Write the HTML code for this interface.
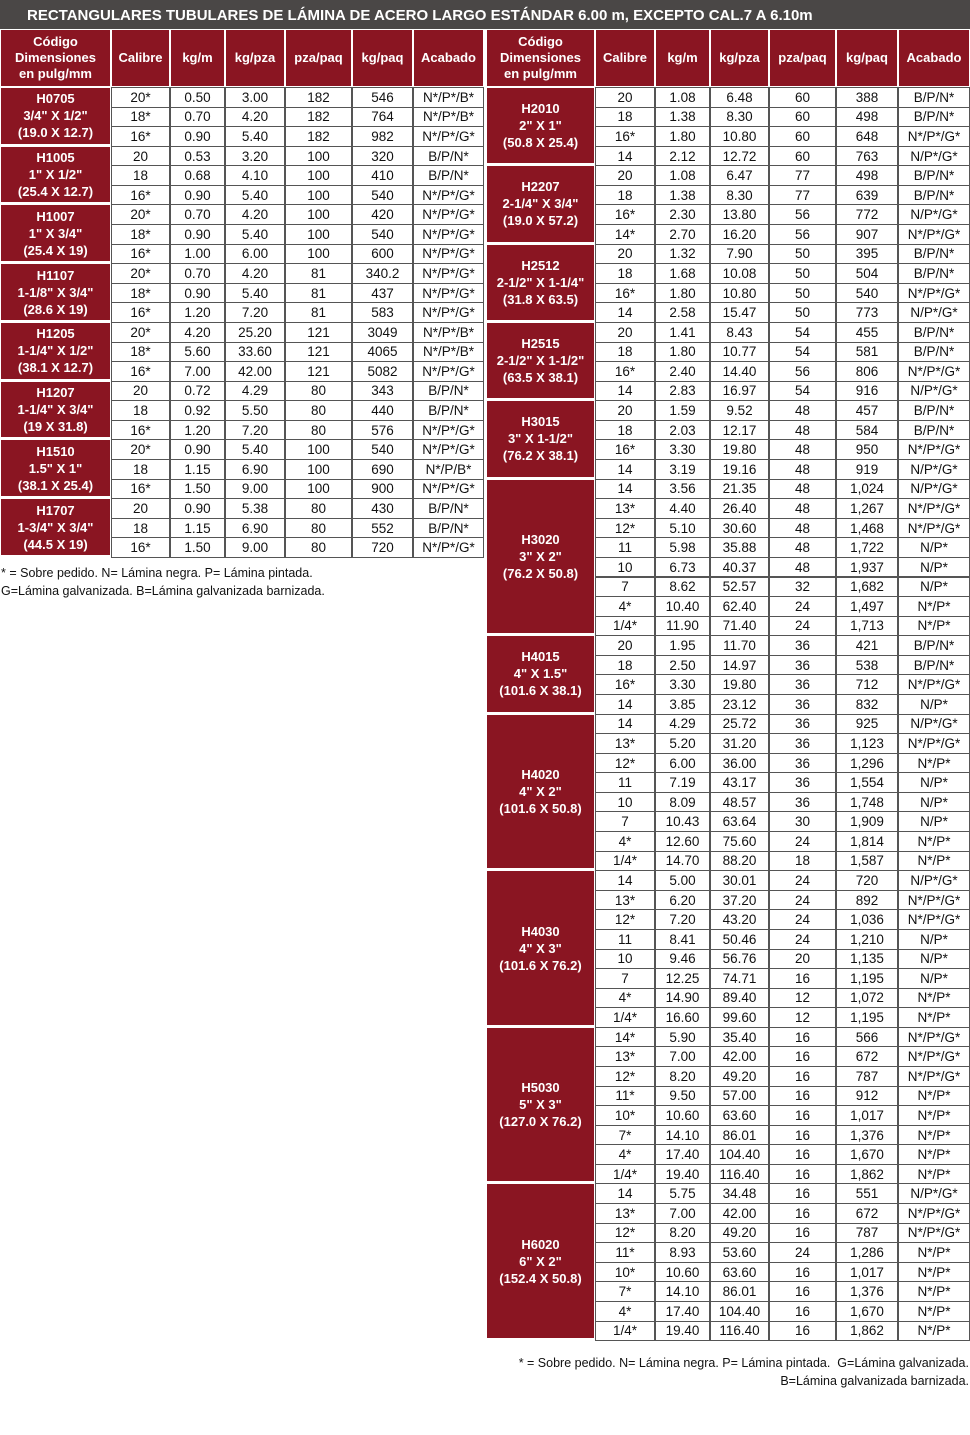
<!DOCTYPE html>
<html><head><meta charset="utf-8">
<style>
body{margin:0;width:970px;height:1435px;background:#fff;position:relative;overflow:hidden;font-family:"Liberation Sans",sans-serif;}
.c{position:absolute;box-sizing:border-box;display:flex;align-items:center;justify-content:center;text-align:center;}
.h{background:#8a1522;color:#fff;font-weight:bold;font-size:13px;line-height:16px;border:1px solid #fff;}
.g{background:#8a1522;color:#fff;font-weight:bold;font-size:13px;line-height:17px;border:1px solid #fff;border-bottom:2px solid #fff;}
.d{background:#fff;color:#111;font-size:13.5px;border:1px solid #555;}
#title{position:absolute;left:0;top:0;width:970px;height:29px;background:#4a4746;color:#fff;font-weight:bold;font-size:15px;line-height:31px;padding-left:27px;box-sizing:border-box;white-space:nowrap;}
.note{position:absolute;font-size:12.5px;line-height:18px;color:#111;}
</style></head><body>
<div id="title">RECTANGULARES TUBULARES DE LÁMINA DE ACERO LARGO ESTÁNDAR 6.00 m, EXCEPTO CAL.7 A 6.10m</div>
<div class="note" style="left:1px;top:564px;">* = Sobre pedido. N= Lámina negra. P= Lámina pintada.<br>G=Lámina galvanizada. B=Lámina galvanizada barnizada.</div>
<div class="note" style="right:1px;top:1354px;text-align:right;">* = Sobre pedido. N= Lámina negra. P= Lámina pintada.&nbsp; G=Lámina galvanizada.<br>B=Lámina galvanizada barnizada.</div>
<script>
const headers=["Código<br>Dimensiones<br>en pulg/mm","Calibre","kg/m","kg/pza","pza/paq","kg/paq","Acabado"];
const leftGroups=[
["H0705<br>3/4\" X 1/2\"<br>(19.0 X 12.7)",[["20*","0.50","3.00","182","546","N*/P*/B*"],["18*","0.70","4.20","182","764","N*/P*/B*"],["16*","0.90","5.40","182","982","N*/P*/G*"]]],
["H1005<br>1\" X 1/2\"<br>(25.4 X 12.7)",[["20","0.53","3.20","100","320","B/P/N*"],["18","0.68","4.10","100","410","B/P/N*"],["16*","0.90","5.40","100","540","N*/P*/G*"]]],
["H1007<br>1\" X 3/4\"<br>(25.4 X 19)",[["20*","0.70","4.20","100","420","N*/P*/G*"],["18*","0.90","5.40","100","540","N*/P*/G*"],["16*","1.00","6.00","100","600","N*/P*/G*"]]],
["H1107<br>1-1/8\" X 3/4\"<br>(28.6 X 19)",[["20*","0.70","4.20","81","340.2","N*/P*/G*"],["18*","0.90","5.40","81","437","N*/P*/G*"],["16*","1.20","7.20","81","583","N*/P*/G*"]]],
["H1205<br>1-1/4\" X 1/2\"<br>(38.1 X 12.7)",[["20*","4.20","25.20","121","3049","N*/P*/B*"],["18*","5.60","33.60","121","4065","N*/P*/B*"],["16*","7.00","42.00","121","5082","N*/P*/G*"]]],
["H1207<br>1-1/4\" X 3/4\"<br>(19 X 31.8)",[["20","0.72","4.29","80","343","B/P/N*"],["18","0.92","5.50","80","440","B/P/N*"],["16*","1.20","7.20","80","576","N*/P*/G*"]]],
["H1510<br>1.5\" X 1\"<br>(38.1 X 25.4)",[["20*","0.90","5.40","100","540","N*/P*/G*"],["18","1.15","6.90","100","690","N*/P/B*"],["16*","1.50","9.00","100","900","N*/P*/G*"]]],
["H1707<br>1-3/4\" X 3/4\"<br>(44.5 X 19)",[["20","0.90","5.38","80","430","B/P/N*"],["18","1.15","6.90","80","552","B/P/N*"],["16*","1.50","9.00","80","720","N*/P*/G*"]]]
];
const rightGroups=[
["H2010<br>2\" X 1\"<br>(50.8 X 25.4)",[["20","1.08","6.48","60","388","B/P/N*"],["18","1.38","8.30","60","498","B/P/N*"],["16*","1.80","10.80","60","648","N*/P*/G*"],["14","2.12","12.72","60","763","N/P*/G*"]]],
["H2207<br>2-1/4\" X 3/4\"<br>(19.0 X 57.2)",[["20","1.08","6.47","77","498","B/P/N*"],["18","1.38","8.30","77","639","B/P/N*"],["16*","2.30","13.80","56","772","N/P*/G*"],["14*","2.70","16.20","56","907","N*/P*/G*"]]],
["H2512<br>2-1/2\" X 1-1/4\"<br>(31.8 X 63.5)",[["20","1.32","7.90","50","395","B/P/N*"],["18","1.68","10.08","50","504","B/P/N*"],["16*","1.80","10.80","50","540","N*/P*/G*"],["14","2.58","15.47","50","773","N/P*/G*"]]],
["H2515<br>2-1/2\" X 1-1/2\"<br>(63.5 X 38.1)",[["20","1.41","8.43","54","455","B/P/N*"],["18","1.80","10.77","54","581","B/P/N*"],["16*","2.40","14.40","56","806","N*/P*/G*"],["14","2.83","16.97","54","916","N/P*/G*"]]],
["H3015<br>3\" X 1-1/2\"<br>(76.2 X 38.1)",[["20","1.59","9.52","48","457","B/P/N*"],["18","2.03","12.17","48","584","B/P/N*"],["16*","3.30","19.80","48","950","N*/P*/G*"],["14","3.19","19.16","48","919","N/P*/G*"]]],
["H3020<br>3\" X 2\"<br>(76.2 X 50.8)",[["14","3.56","21.35","48","1,024","N/P*/G*"],["13*","4.40","26.40","48","1,267","N*/P*/G*"],["12*","5.10","30.60","48","1,468","N*/P*/G*"],["11","5.98","35.88","48","1,722","N/P*"],["10","6.73","40.37","48","1,937","N/P*"],["7","8.62","52.57","32","1,682","N/P*"],["4*","10.40","62.40","24","1,497","N*/P*"],["1/4*","11.90","71.40","24","1,713","N*/P*"]]],
["H4015<br>4\" X 1.5\"<br>(101.6 X 38.1)",[["20","1.95","11.70","36","421","B/P/N*"],["18","2.50","14.97","36","538","B/P/N*"],["16*","3.30","19.80","36","712","N*/P*/G*"],["14","3.85","23.12","36","832","N/P*"]]],
["H4020<br>4\" X 2\"<br>(101.6 X 50.8)",[["14","4.29","25.72","36","925","N/P*/G*"],["13*","5.20","31.20","36","1,123","N*/P*/G*"],["12*","6.00","36.00","36","1,296","N*/P*"],["11","7.19","43.17","36","1,554","N/P*"],["10","8.09","48.57","36","1,748","N/P*"],["7","10.43","63.64","30","1,909","N/P*"],["4*","12.60","75.60","24","1,814","N*/P*"],["1/4*","14.70","88.20","18","1,587","N*/P*"]]],
["H4030<br>4\" X 3\"<br>(101.6 X 76.2)",[["14","5.00","30.01","24","720","N/P*/G*"],["13*","6.20","37.20","24","892","N*/P*/G*"],["12*","7.20","43.20","24","1,036","N*/P*/G*"],["11","8.41","50.46","24","1,210","N/P*"],["10","9.46","56.76","20","1,135","N/P*"],["7","12.25","74.71","16","1,195","N/P*"],["4*","14.90","89.40","12","1,072","N*/P*"],["1/4*","16.60","99.60","12","1,195","N*/P*"]]],
["H5030<br>5\" X 3\"<br>(127.0 X 76.2)",[["14*","5.90","35.40","16","566","N*/P*/G*"],["13*","7.00","42.00","16","672","N*/P*/G*"],["12*","8.20","49.20","16","787","N*/P*/G*"],["11*","9.50","57.00","16","912","N*/P*"],["10*","10.60","63.60","16","1,017","N*/P*"],["7*","14.10","86.01","16","1,376","N*/P*"],["4*","17.40","104.40","16","1,670","N*/P*"],["1/4*","19.40","116.40","16","1,862","N*/P*"]]],
["H6020<br>6\" X 2\"<br>(152.4 X 50.8)",[["14","5.75","34.48","16","551","N/P*/G*"],["13*","7.00","42.00","16","672","N*/P*/G*"],["12*","8.20","49.20","16","787","N*/P*/G*"],["11*","8.93","53.60","24","1,286","N*/P*"],["10*","10.60","63.60","16","1,017","N*/P*"],["7*","14.10","86.01","16","1,376","N*/P*"],["4*","17.40","104.40","16","1,670","N*/P*"],["1/4*","19.40","116.40","16","1,862","N*/P*"]]]
];
const colNames=["calibre","kg-m","kg-pza","pza-paq","kg-paq","acabado"];
const RH=19.58, TOP=87, HTOP=29;
function cell(cls,x,y,w,h,html,name){
  const d=document.createElement('div');
  d.className='c '+cls;
  d.style.left=x+'px';d.style.top=y+'px';d.style.width=w+'px';d.style.height=h+'px';
  d.innerHTML=html;
  
  
  document.body.appendChild(d);
}
function table(edges,groups,side){
  headers.forEach((t,i)=>cell('h',edges[i],HTOP,edges[i+1]-edges[i],TOP-HTOP,t,side+'-header-'+i));
  let r=0;
  groups.forEach(g=>{
    const n=g[1].length;
    const y0=TOP+r*RH;
    cell('g',edges[0],y0,edges[1]-edges[0],n*RH,g[0],side+'-code-'+g[0].split('<')[0].toLowerCase());
    g[1].forEach((row,k)=>{
      const y=TOP+(r+k)*RH;
      row.forEach((v,j)=>cell('d',edges[j+1],y,edges[j+2]-edges[j+1],RH+1,v,side+'-'+colNames[j]+'-cell'));
    });
    r+=n;
  });
}
table([0,111,170,225,285,352,413,484],leftGroups,'left');
table([486,595,655,710,769,836,898,970],rightGroups,'right');
</script>
</body></html>
